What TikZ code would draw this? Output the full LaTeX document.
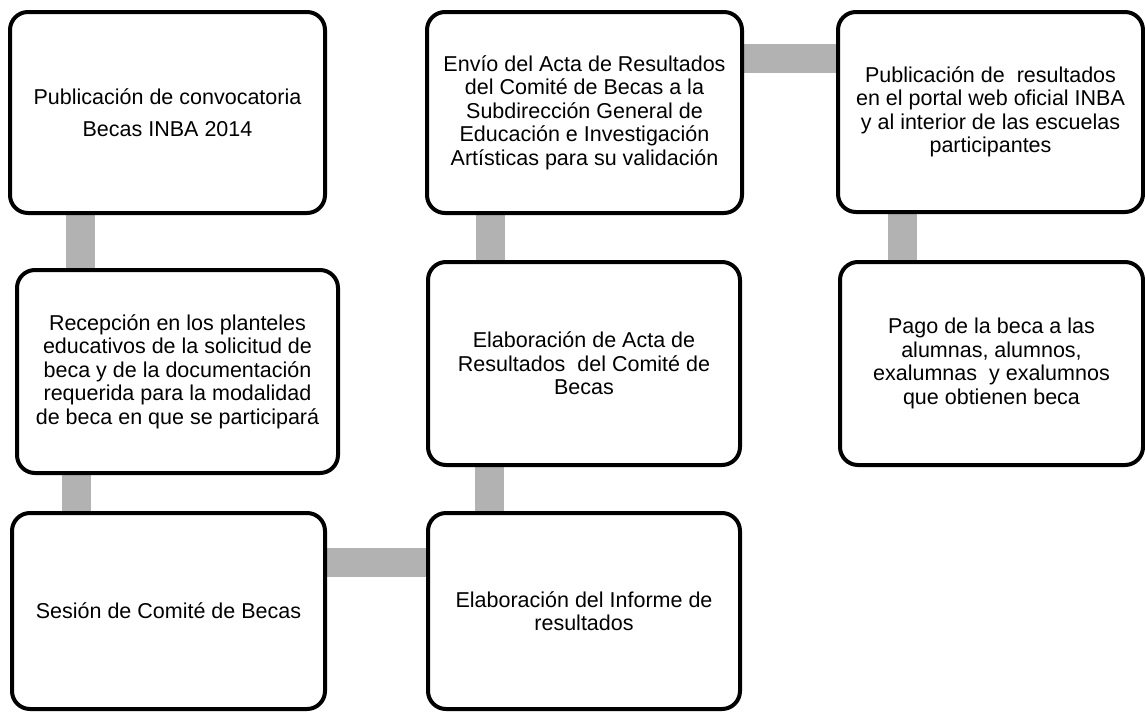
\documentclass[tikz,border=0pt]{standalone}
\usepackage{fontspec}
\setmainfont{Liberation Sans}
\usetikzlibrary{backgrounds}
\definecolor{linkgray}{RGB}{178,178,178}

\begin{document}
\begin{tikzpicture}[
  x=1pt, y=-1pt,
  box/.style={draw, line width=4pt, rounded corners=18pt, fill=white, inner sep=0pt, align=center, font=\fontsize{21.5}{23.5}\selectfont},
  link/.style={draw=linkgray, line width=29pt}
]
\useasboundingbox (0,0) rectangle (1145,712);

% Column 1
\node[box, minimum width=315pt, minimum height=201pt, font=\fontsize{21.5}{32}\selectfont] (conv) at (167.5,112.5) {Publicación de convocatoria\\Becas INBA 2014};
\node[box, minimum width=321pt, minimum height=203pt] (recep) at (177.5,371.5) {Recepción en los planteles\\educativos de la solicitud de\\beca y de la documentación\\requerida para la modalidad\\de beca en que se participará};
\node[box, minimum width=313pt, minimum height=196pt] (sesion) at (168.5,611) {Sesión de Comité de Becas};

% Column 2
\node[box, minimum width=312pt, minimum height=196pt] (informe) at (584,611) {Elaboración del Informe de\\resultados};
\node[box, minimum width=312pt, minimum height=203pt] (acta) at (584,363.5) {Elaboración de Acta de\\Resultados\ \ del Comité de\\Becas};
\node[box, minimum width=315pt, minimum height=201pt] (envio) at (584.5,112.5) {Envío del Acta de Resultados\\del Comité de Becas a la\\Subdirección General de\\Educación e Investigación\\Artísticas para su validación};

% Column 3
\node[box, minimum width=305pt, minimum height=200pt] (public) at (990.5,112) {Publicación de\ \ resultados\\en el portal web oficial INBA\\y al interior de las escuelas\\participantes};
\node[box, minimum width=303pt, minimum height=203pt] (pago) at (991.5,363.5) {Pago de la beca a las\\alumnas, alumnos,\\exalumnas\ \ y exalumnos\\que obtienen beca};

% Links
\begin{scope}[on background layer]
\draw[link] ([xshift=72pt]conv.south west) -- ([xshift=72pt]conv.south west |- recep.north);
\draw[link] ([xshift=66.5pt]sesion.north west |- recep.south) -- ([xshift=66.5pt]sesion.north west);
\draw[link] ([yshift=-51pt]sesion.north east) -- ([yshift=-51pt]sesion.north east -| informe.west);
\draw[link] ([xshift=63.5pt]acta.south west |- informe.north) -- ([xshift=63.5pt]acta.south west);
\draw[link] ([xshift=65.5pt]envio.south west) -- ([xshift=65.5pt]envio.south west |- acta.north);
\draw[link] ([yshift=-48pt]envio.north east) -- ([yshift=-48pt]envio.north east -| public.west);
\draw[link] ([xshift=66pt]public.south west) -- ([xshift=66pt]public.south west |- pago.north);
\end{scope}

\end{tikzpicture}
\end{document}
